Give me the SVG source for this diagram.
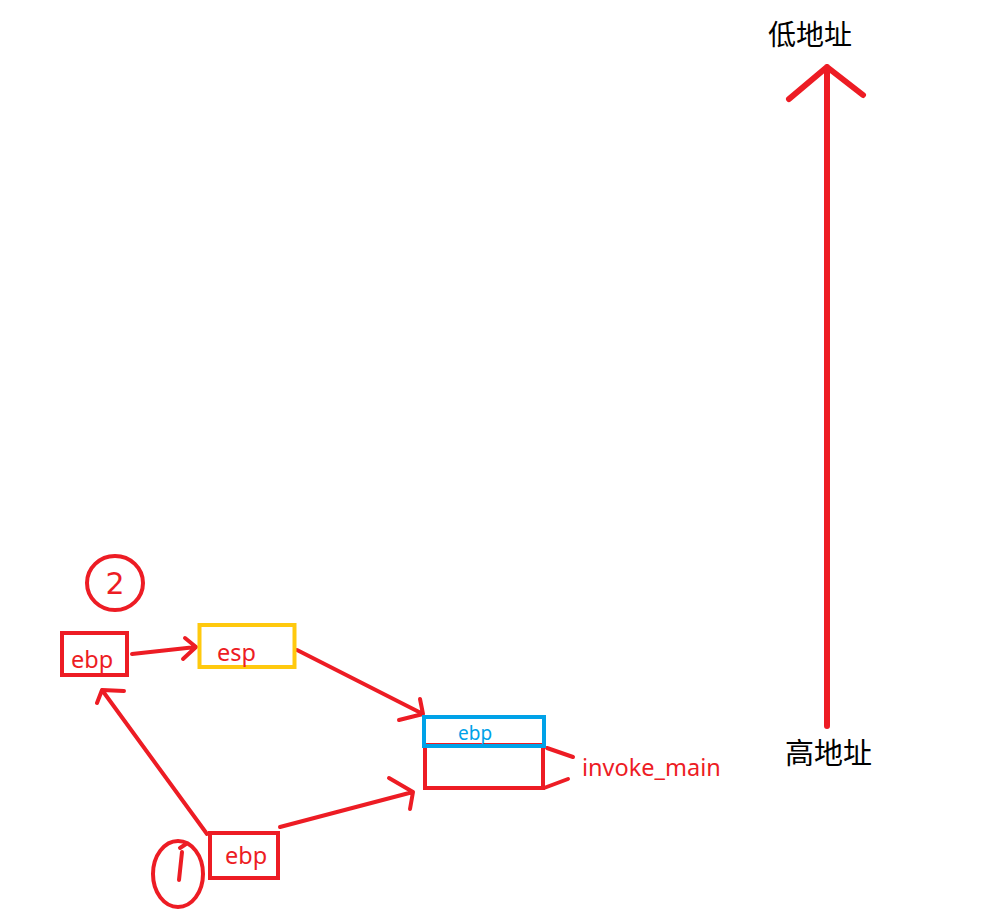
<svg xmlns="http://www.w3.org/2000/svg" width="1003" height="922" viewBox="0 0 1003 922">
<style>
.bg{fill:#ffffff}
.box{fill:none;stroke-width:4}
.red{stroke:#ED1C24}
.blue{stroke:#00A2E8}
.yellow{stroke:#FFC90E}
.ln{fill:none;stroke:#ED1C24;stroke-width:4;stroke-linecap:round;stroke-linejoin:round}
.t{font-family:"Noto Sans","DejaVu Sans",sans-serif;fill:#ED1C24}
.cjk{font-family:"Noto Sans CJK SC",sans-serif;fill:#000000}
.hand{font-family:"DejaVu Sans",sans-serif;fill:#ED1C24;font-size:30px}
</style>
<rect class="bg" x="0" y="0" width="1003" height="922"/>

<g id="connectors">
  <!-- ebp2 -> esp -->
  <path class="ln" d="M132,654 L196,647 M185,638 L196,647 L183,659"/>
  <!-- esp -> blue ebp -->
  <path class="ln" d="M297,650 L423,714 M420,699 L423,714 L399,720"/>
  <!-- ebp1 -> ebp2 -->
  <path class="ln" d="M207,834 L102,690 M124,691 L102,690 L97,703"/>
  <!-- ebp1 -> red box -->
  <path class="ln" d="M280,827 L413,792 M389,778 L413,792 L410,809"/>
  <!-- brackets to invoke_main -->
  <path class="ln" d="M547,748 L573,757"/>
  <path class="ln" d="M544,788 L568,779"/>
  <!-- address arrow -->
  <path fill="none" stroke="#ED1C24" stroke-width="6" stroke-linecap="round" stroke-linejoin="round" d="M827,726 L827,67 M789,99 L827,67 L863,95"/>
</g>

<g id="label-low">
  <text class="cjk" x="768" y="45" font-size="28">低地址</text>
</g>
<g id="label-high">
  <text class="cjk" x="785" y="764" font-size="29">高地址</text>
</g>

<g id="mark-2">
  <ellipse cx="115" cy="583" rx="28" ry="27" fill="none" stroke="#ED1C24" stroke-width="4"/>
  <text class="hand" x="115" y="594" text-anchor="middle">2</text>
</g>

<g id="node-ebp2">
  <rect class="box red" x="62" y="633" width="65" height="42"/>
  <text class="t" x="71" y="668" font-size="23.5">ebp</text>
</g>

<g id="node-esp">
  <rect class="box yellow" x="199.5" y="625" width="95" height="42"/>
  <text class="t" x="217" y="661" font-size="23.5">esp</text>
</g>

<g id="node-stack">
  <rect class="box red" x="425" y="745" width="118" height="43"/>
  <rect class="box blue" x="424" y="717" width="120" height="29"/>
  <text class="t" x="458" y="740" font-size="19" style="fill:#00A2E8">ebp</text>
</g>

<g id="label-invoke">
  <text class="t" x="582" y="776" font-size="23.5">invoke_main</text>
</g>

<g id="node-ebp1">
  <rect class="box red" x="210" y="833" width="68" height="45"/>
  <text class="t" x="225" y="864" font-size="23.5">ebp</text>
</g>

<g id="mark-1">
  <ellipse cx="178" cy="874" rx="25" ry="33" fill="none" stroke="#ED1C24" stroke-width="4"/>
  <path class="ln" d="M182,852 L179,880 M180,848 L186,844"/>
</g>
</svg>
